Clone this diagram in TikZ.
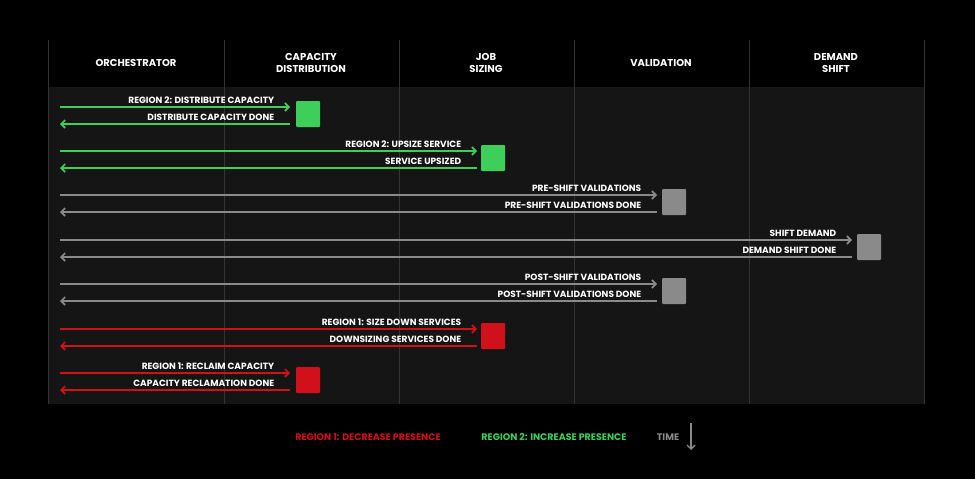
\documentclass[tikz,border=0pt]{standalone}
\usepackage{fontspec}
\setmainfont{Poppins}
\usetikzlibrary{arrows.meta}
\definecolor{gr}{HTML}{3ECF5A}
\definecolor{rd}{HTML}{D0101A}
\definecolor{gy}{HTML}{8A8A8A}
\definecolor{gbox}{HTML}{7A7A7A}
\definecolor{body}{HTML}{151515}
\definecolor{divc}{HTML}{343434}
\begin{document}
\begin{tikzpicture}[x=1pt,y=-1pt,
  msg/.style={line width=1.6pt,-{Straight Barb[length=4pt,width=8pt,line width=1.6pt]}},
  lbl/.style={font=\fontsize{9}{10}\selectfont\bfseries,text=white,anchor=south east,inner sep=1pt},
  hdr/.style={font=\fontsize{10}{12.5}\selectfont\bfseries,text=white,align=center},
  leg/.style={font=\fontsize{9.5}{10}\selectfont\bfseries},
  act/.style={minimum width=24pt,minimum height=26pt,inner sep=0pt,rounded corners=1pt}]
\fill[black] (0,0) rectangle (975,479);
\useasboundingbox (0,0) rectangle (975,479);
\fill[body] (48,87) rectangle (924,404);
\foreach \x in {48,224,399,574,749,924} \draw[divc,line width=0.6pt] (\x,40) -- (\x,404);
\node[hdr] (h1) at (136,63) {ORCHESTRATOR};
\node[hdr] (h2) at (311,63) {CAPACITY\\DISTRIBUTION};
\node[hdr] (h3) at (486,63) {JOB\\SIZING};
\node[hdr] (h4) at (661,63) {VALIDATION};
\node[hdr] (h5) at (836,63) {DEMAND\\SHIFT};
\foreach \ya/\ex/\bx/\c/\la/\lb/\n in {
 107/290/308/gr/{REGION 2: DISTRIBUTE CAPACITY}/{DISTRIBUTE CAPACITY DONE}/a,
 151/477/493/gr/{REGION 2: UPSIZE SERVICE}/{SERVICE UPSIZED}/b,
 195/657/674/gy/{PRE-SHIFT VALIDATIONS}/{PRE-SHIFT VALIDATIONS DONE}/c,
 240/852/869/gy/{SHIFT DEMAND}/{DEMAND SHIFT DONE}/d,
 284/657/674/gy/{POST-SHIFT VALIDATIONS}/{POST-SHIFT VALIDATIONS DONE}/e,
 329/477/493/rd/{REGION 1: SIZE DOWN SERVICES}/{DOWNSIZING SERVICES DONE}/f,
 373/290/308/rd/{REGION 1: RECLAIM CAPACITY}/{CAPACITY RECLAMATION DONE}/g}{
  \coordinate (s\n) at (60,\ya);
  \coordinate (t\n) at (\ex,\ya);
  \coordinate (u\n) at (\ex,\ya+17);
  \coordinate (v\n) at (60,\ya+17);
  \ifx\c gy \node[act,fill=gbox] (box\n) at (\bx,\ya+7) {};
  \else \node[act,fill=\c] (box\n) at (\bx,\ya+7) {}; \fi
  \draw[msg,draw=\c] (s\n) -- (t\n) node[lbl,pos=1,xshift=-14pt,yshift=2pt] {\la};
  \draw[msg,draw=\c] (u\n) -- (v\n) node[lbl,pos=0,xshift=-14pt,yshift=2pt] {\lb};
}
\node[leg,text=rd] (l1) at (368,437) {REGION 1: DECREASE PRESENCE};
\node[leg,text=gr] (l2) at (554,437) {REGION 2: INCREASE PRESENCE};
\node[leg,text=gy] (l3) at (668,437) {TIME};
\coordinate (ta) at (691,423);
\coordinate (tb) at (691,450);
\draw[gy,line width=1.4pt,-{Straight Barb[length=4pt,width=8pt,line width=1.4pt]}] (ta) -- (tb);
\end{tikzpicture}
\end{document}
